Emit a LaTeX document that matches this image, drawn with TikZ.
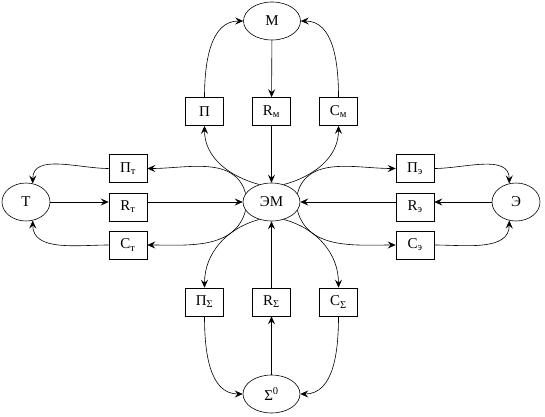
\documentclass[tikz,border=0pt]{standalone}
\usepackage{fontspec}
\setmainfont{Liberation Serif}
\usetikzlibrary{arrows.meta,shapes.geometric}
\begin{document}
\begin{tikzpicture}[x=1pt,y=1pt,line width=0.6pt,
  lbl/.style={font=\fontsize{15}{17}\selectfont},
  box/.style={lbl,draw,rectangle,minimum width=38pt,minimum height=28pt,inner sep=0pt},
  ell/.style={lbl,draw,ellipse,inner sep=0pt,minimum width=57pt,minimum height=38pt},
  sell/.style={lbl,draw,ellipse,inner sep=0pt,minimum width=48pt,minimum height=38pt},
  arr/.style={-{Stealth[length=8pt,width=7pt,inset=3pt]}}]
\useasboundingbox (0,0) rectangle (545,416);
% nodes
\node[ell] (M) at (272,395) {М};
\node[box] (P) at (204.5,304.5) {П};
\node[box] (Rm) at (271.5,304.5) {R\textsubscript{м}};
\node[box] (Cm) at (338.5,304.5) {С\textsubscript{м}};
\node[ell] (EM) at (271.5,214) {ЭМ};
\node[sell] (T) at (26,214) {Т};
\node[box] (Pt) at (128,247.5) {П\textsubscript{т}};
\node[box] (Rt) at (128,209) {R\textsubscript{т}};
\node[box] (Ct) at (128,171) {С\textsubscript{т}};
\node[sell] (E) at (516,214) {Э};
\node[box] (Pe) at (415,247.5) {П\textsubscript{э}};
\node[box] (Re) at (415,209) {R\textsubscript{э}};
\node[box] (Ce) at (415,171) {С\textsubscript{э}};
\node[box] (Ps) at (204.5,114) {П\textsubscript{Σ}};
\node[box] (Rs) at (271.5,114) {R\textsubscript{Σ}};
\node[box] (Cs) at (338.5,114) {С\textsubscript{Σ}};
\node[ell] (S) at (271.5,22) {Σ\textsuperscript{0}};
% straight connectors
\draw[arr] (M) -- (Rm);
\draw[arr] (Rm) -- (EM);
\draw[arr] (S) -- (Rs);
\draw[arr] (Rs) -- (EM);
\draw[arr] (T) -- (Rt.west |- T);
\draw[arr] (Rt.east |- T) -- (EM);
\draw[arr] (E) -- (Re.east |- E);
\draw[arr] (Re.west |- E) -- (EM);
% curves out of EM
\draw[arr] (EM.125) to[out=165,in=-90] (P.south);
\draw[arr] (EM.162) to[out=105,in=0] (Pt.east);
\draw[arr] (EM.55) to[out=15,in=-90] (Cm.south);
\draw[arr] (EM.18) to[out=75,in=180] (Pe.west);
\draw[arr] (EM.198) to[out=-105,in=0] (Ct.east);
\draw[arr] (EM.235) to[out=195,in=90] (Ps.north);
\draw[arr] (EM.-18) to[out=-75,in=180] (Ce.west);
\draw[arr] (EM.-55) to[out=-15,in=90] (Cs.north);
% outer curves
\draw[arr] (P.north) to[out=90,in=180] (M.west);
\draw[arr] (Cm.north) to[out=90,in=0] (M.east);
\draw[arr] (Pt.west) to[out=180,in=90] (T.70);
\draw[arr] (Ct.west) to[out=180,in=-90] (T.-70);
\draw[arr] (Pe.east) to[out=0,in=90] (E.110);
\draw[arr] (Ce.east) to[out=0,in=-90] (E.-110);
\draw[arr] (Ps.south) to[out=-90,in=180] (S.west);
\draw[arr] (Cs.south) to[out=-90,in=0] (S.east);
\end{tikzpicture}
\end{document}
